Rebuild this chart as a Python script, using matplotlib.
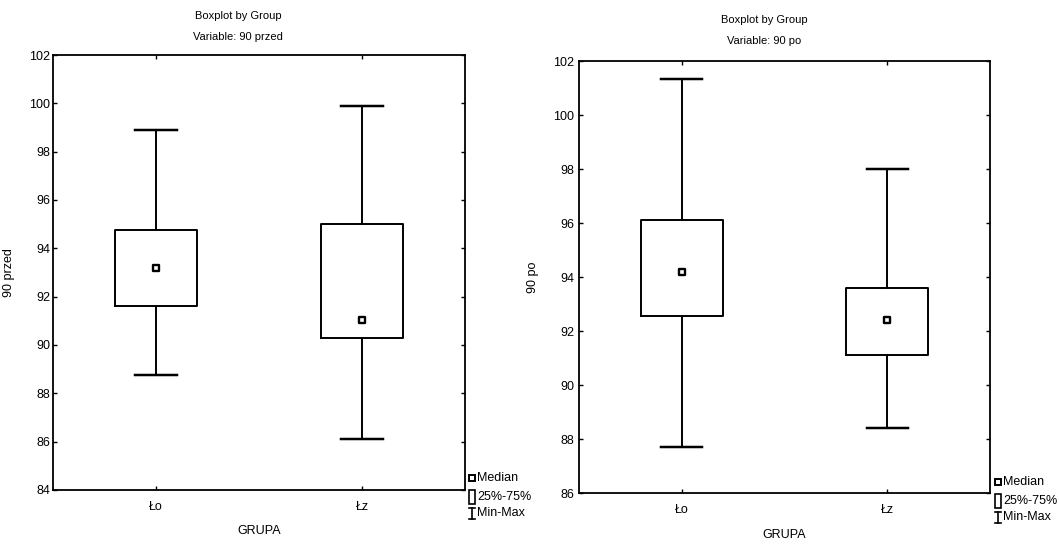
import matplotlib
matplotlib.use("Agg")
import matplotlib.pyplot as plt
from matplotlib.lines import Line2D
from matplotlib.patches import Rectangle

plt.rcParams['font.family'] = ['Liberation Sans', 'DejaVu Sans']

# data
groups = ["Ło", "Łz"]
przed_min = [88.75, 86.1]
przed_q1 = [91.6, 90.3]
przed_med = [93.2, 91.05]
przed_q3 = [94.75, 95.0]
przed_max = [98.9, 99.9]

po_min = [87.7, 88.4]
po_q1 = [92.55, 91.1]
po_med = [94.2, 92.4]
po_q3 = [96.1, 93.6]
po_max = [101.35, 98.0]

W, H = 1059, 545
fig = plt.figure(figsize=(W / 100, H / 100), dpi=100, facecolor='w')


def px(x, y):
    return x / W, 1 - y / H


def draw_panel(rect, mins, q1s, meds, q3s, maxs, ylim, var, ylab, title_xy, ylab_x, xlab_y, ypad):
    ax = fig.add_axes(rect)
    stats = []
    for g, lo, a, m, b, hi in zip(groups, mins, q1s, meds, q3s, maxs):
        stats.append(dict(label=g, whislo=lo, q1=a, med=m, q3=b, whishi=hi, fliers=[]))
    pos = list(range(1, len(groups) + 1))
    lw = 1.4
    ax.bxp(stats, positions=pos, widths=0.4, capwidths=0.2, showfliers=False,
           boxprops=dict(color='black', linewidth=lw),
           whiskerprops=dict(color='black', linewidth=lw),
           capprops=dict(color='black', linewidth=lw + 0.4),
           medianprops=dict(linestyle='none'))
    ax.scatter(pos, meds, marker='s', s=18, facecolor='white', edgecolor='black',
               linewidth=1.7, zorder=5)
    ax.set_xlim(0.5, 2.5)
    ax.set_ylim(*ylim)
    ax.set_yticks(range(ylim[0], ylim[1] + 1, 2))
    ax.set_xticks(pos)
    ax.set_xticklabels(groups)
    ax.tick_params(direction='in', length=3, width=1, top=True, right=True,
                   labelsize=9)
    ax.tick_params(axis='x', pad=8)
    ax.tick_params(axis='y', pad=ypad)
    for s in ax.spines.values():
        s.set_linewidth(1.3)
    ax.set_ylabel(ylab, fontsize=9)
    ax.yaxis.set_label_coords(ylab_x, 0.5)
    ax.set_xlabel("GRUPA", fontsize=9, va='center')
    ax.xaxis.set_label_coords(0.5, xlab_y)
    tx, ty = title_xy
    fig.text(*px(tx, ty), "Boxplot by Group", ha='center', va='center', fontsize=8)
    fig.text(*px(tx, ty + 21), "Variable: " + var, ha='center', va='center', fontsize=8)
    return ax


draw_panel([53 / W, 1 - 490 / H, 412 / W, 435 / H], przed_min, przed_q1, przed_med,
           przed_q3, przed_max, (84, 102), "90 przed", "90 przed", (238, 16), -0.092, -0.094, 2)
draw_panel([579 / W, 1 - 493 / H, 411 / W, 432 / H], po_min, po_q1, po_med,
           po_q3, po_max, (86, 102), "90 po", "90 po", (764, 20), -0.097, -0.097, 3.5)


def legend(x, y):
    # Median
    fig.add_artist(Line2D(*zip(px(x, y)), marker='s', markersize=4.5, markerfacecolor='white',
                          markeredgecolor='black', markeredgewidth=1.4, transform=fig.transFigure))
    fig.text(*px(x + 5, y), "Median", ha='left', va='center', fontsize=9)
    # 25%-75%
    x0, y0 = px(x - 3, y + 26)
    x1, y1 = px(x + 3, y + 12)
    fig.add_artist(Rectangle((x0, y0), x1 - x0, y1 - y0, facecolor='white', edgecolor='black',
                             linewidth=1.2, transform=fig.transFigure))
    fig.text(*px(x + 5, y + 19), "25%-75%", ha='left', va='center', fontsize=9)
    # Min-Max
    for xs, ys in [((x - 3, x + 3), (y + 30, y + 30)), ((x, x), (y + 30, y + 41)),
                   ((x - 3, x + 3), (y + 41, y + 41))]:
        p0 = px(xs[0], ys[0])
        p1 = px(xs[1], ys[1])
        fig.add_artist(Line2D([p0[0], p1[0]], [p0[1], p1[1]], color='black', linewidth=1.2,
                              transform=fig.transFigure))
    fig.text(*px(x + 5, y + 35), "Min-Max", ha='left', va='center', fontsize=9)


legend(472, 478)
legend(998, 482)

fig.savefig("out.png", dpi=100)
